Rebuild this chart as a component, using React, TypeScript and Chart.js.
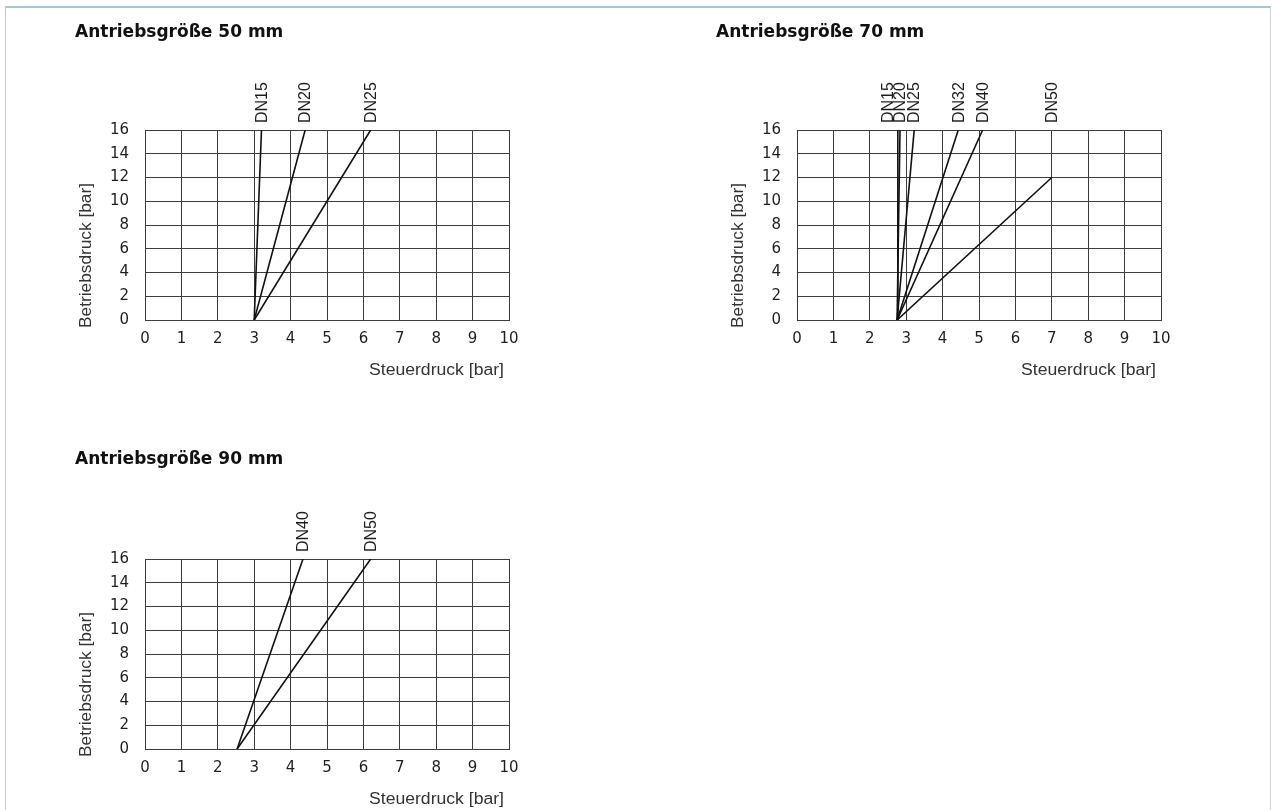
import React, { useEffect, useRef } from "react";
import { Chart, registerables } from "chart.js";

Chart.register(...registerables);

// ---------- data ----------
const xTickValues = [0, 1, 2, 3, 4, 5, 6, 7, 8, 9, 10];
const yTickValues = [0, 2, 4, 6, 8, 10, 12, 14, 16];

const panelTitles = ["Antriebsgröße 50 mm", "Antriebsgröße 70 mm", "Antriebsgröße 90 mm"];
const xAxisTitle = "Steuerdruck [bar]";
const yAxisTitle = "Betriebsdruck [bar]";

// Antriebsgröße 50 mm
const dn50Labels = ["DN15", "DN20", "DN25"];
const dn50StartX = [3.0, 3.0, 3.0];
const dn50EndX = [3.2, 4.4, 6.2];
const dn50EndY = [16, 16, 16];

// Antriebsgröße 70 mm
const dn70Labels = ["DN15", "DN20", "DN25", "DN32", "DN40", "DN50"];
const dn70StartX = [2.75, 2.75, 2.75, 2.75, 2.75, 2.75];
const dn70EndX = [2.77, 2.83, 3.22, 4.43, 5.1, 7.0];
const dn70EndY = [16, 16, 16, 16, 16, 12];

// Antriebsgröße 90 mm
const dn90Labels = ["DN40", "DN50"];
const dn90StartX = [2.53, 2.53];
const dn90EndX = [4.34, 6.2];
const dn90EndY = [16, 16];

// ---------- styling / layout ----------
const FONT = '"DejaVu Sans", "Liberation Sans", sans-serif';
const LABEL_FONT = '"Liberation Sans", Arial, sans-serif';
const GRID = "#3c3c3c";
const LINE = "#111111";
const TEXT = "#1e1e1e";

type PanelDef = {
  title: string;
  labels: string[];
  startX: number[];
  endX: number[];
  endY: number[];
  canvas: { left: number; top: number; width: number; height: number };
  plot: { left: number; top: number; right: number; bottom: number };
  titlePos: { x: number; y: number };
};

const panels: PanelDef[] = [
  {
    title: panelTitles[0],
    labels: dn50Labels,
    startX: dn50StartX,
    endX: dn50EndX,
    endY: dn50EndY,
    canvas: { left: 0, top: 0, width: 560, height: 400 },
    plot: { left: 145, top: 130, right: 509, bottom: 320 },
    titlePos: { x: 75, y: 37 },
  },
  {
    title: panelTitles[1],
    labels: dn70Labels,
    startX: dn70StartX,
    endX: dn70EndX,
    endY: dn70EndY,
    canvas: { left: 640, top: 0, width: 632, height: 400 },
    plot: { left: 157, top: 130, right: 521, bottom: 320 },
    titlePos: { x: 76, y: 37 },
  },
  {
    title: panelTitles[2],
    labels: dn90Labels,
    startX: dn90StartX,
    endX: dn90EndX,
    endY: dn90EndY,
    canvas: { left: 0, top: 420, width: 560, height: 390 },
    plot: { left: 145, top: 139, right: 509, bottom: 329 },
    titlePos: { x: 75, y: 43.5 },
  },
];

const Y_SCALE_W = 50;
const X_SCALE_H = 30;

const textPlugin = {
  id: "panelText",
  afterDraw(chart: any, _args: any, opts: any) {
    const { ctx, chartArea, scales } = chart;
    ctx.save();
    // panel title
    ctx.fillStyle = "#111";
    ctx.font = `bold 17px ${FONT}`;
    ctx.textAlign = "left";
    ctx.textBaseline = "alphabetic";
    ctx.fillText(opts.title, opts.titleX, opts.titleY);

    // DN labels above the plot, at the end x of each line
    const labels: string[] = opts.labels;
    const xs: number[] = chart.data.datasets.map((ds: any) =>
      scales.x.getPixelForValue(ds.data[ds.data.length - 1].x)
    );
    const minGap = 12;
    for (let i = xs.length - 2; i >= 0; i--) {
      if (xs[i] > xs[i + 1] - minGap) xs[i] = xs[i + 1] - minGap;
    }
    ctx.fillStyle = TEXT;
    ctx.font = `16px ${LABEL_FONT}`;
    labels.forEach((lab, i) => {
      ctx.save();
      ctx.translate(xs[i] + 0.5, chartArea.top - 7);
      ctx.rotate(-Math.PI / 2);
      ctx.scale(1, 1.08);
      ctx.textAlign = "left";
      ctx.textBaseline = "middle";
      ctx.fillText(lab, 0, 0);
      ctx.restore();
    });

    // axis titles
    ctx.fillStyle = "#333";
    ctx.font = `16px ${LABEL_FONT}`;
    ctx.textBaseline = "alphabetic";

    ctx.save();
    ctx.translate(chartArea.right - 5, chartArea.bottom + 55);
    ctx.scale(1.1, 1);
    ctx.textAlign = "right";
    ctx.fillText(xAxisTitle, 0, 0);
    ctx.restore();

    ctx.save();
    ctx.translate(chartArea.left - 54, chartArea.bottom + 8);
    ctx.rotate(-Math.PI / 2);
    ctx.scale(1.08, 1);
    ctx.textAlign = "left";
    ctx.fillText(yAxisTitle, 0, 0);
    ctx.restore();

    ctx.restore();
  },
};

function Panel({ def }: { def: PanelDef }) {
  const ref = useRef<HTMLCanvasElement | null>(null);
  useEffect(() => {
    if (!ref.current) return;
    const { canvas, plot } = def;
    const chart = new Chart(ref.current, {
      type: "line",
      data: {
        datasets: def.labels.map((lab, i) => ({
          label: lab,
          data: [
            { x: def.startX[i], y: 0 },
            { x: def.endX[i], y: def.endY[i] },
          ],
          borderColor: LINE,
          borderWidth: 1.6,
          pointRadius: 0,
          fill: false,
          tension: 0,
        })),
      },
      options: {
        responsive: false,
        animation: false,
        devicePixelRatio: 1,
        layout: {
          padding: {
            left: plot.left - Y_SCALE_W,
            top: plot.top,
            right: canvas.width - plot.right,
            bottom: canvas.height - plot.bottom - X_SCALE_H,
          },
        },
        plugins: {
          legend: { display: false },
          title: { display: false },
          tooltip: { enabled: false },
          panelText: {
            title: def.title,
            titleX: def.titlePos.x,
            titleY: def.titlePos.y,
            labels: def.labels,
          },
        } as any,
        scales: {
          x: {
            type: "linear",
            min: 0,
            max: 10,
            afterBuildTicks: (s: any) => {
              s.ticks = xTickValues.map((v) => ({ value: v }));
            },
            afterFit: (s: any) => {
              s.height = X_SCALE_H;
            },
            ticks: {
              autoSkip: false,
              maxRotation: 0,
              padding: 10,
              color: TEXT,
              font: { family: FONT, size: 15 },
            },
            grid: { color: GRID, lineWidth: 1, drawTicks: false },
            border: { color: GRID, width: 1 },
          },
          y: {
            type: "linear",
            min: 0,
            max: 16,
            afterBuildTicks: (s: any) => {
              s.ticks = yTickValues.map((v) => ({ value: v }));
            },
            afterFit: (s: any) => {
              s.width = Y_SCALE_W;
            },
            ticks: {
              autoSkip: false,
              padding: 16,
              color: TEXT,
              font: { family: FONT, size: 15 },
            },
            grid: { color: GRID, lineWidth: 1, drawTicks: false },
            border: { color: GRID, width: 1 },
          },
        },
      },
      plugins: [textPlugin],
    });
    return () => chart.destroy();
  }, [def]);
  const { canvas } = def;
  return (
    <canvas
      ref={ref}
      width={canvas.width}
      height={canvas.height}
      style={{
        position: "absolute",
        left: canvas.left,
        top: canvas.top,
        width: canvas.width,
        height: canvas.height,
        display: "block",
      }}
    />
  );
}

export default function App() {
  return (
    <div
      style={{
        position: "fixed",
        left: 0,
        top: 0,
        width: 1272,
        height: 810,
        overflow: "hidden",
        background: "#ffffff",
      }}
    >
      <div
        style={{
          position: "absolute",
          left: 5,
          top: 6,
          width: 1264,
          height: 900,
          borderTop: "2px solid #a9c1e0",
          borderLeft: "1px solid #b7cbe6",
          borderRight: "1px solid #c9d8ec",
        }}
      />
      {panels.map((p, i) => (
        <Panel key={i} def={p} />
      ))}
    </div>
  );
}
